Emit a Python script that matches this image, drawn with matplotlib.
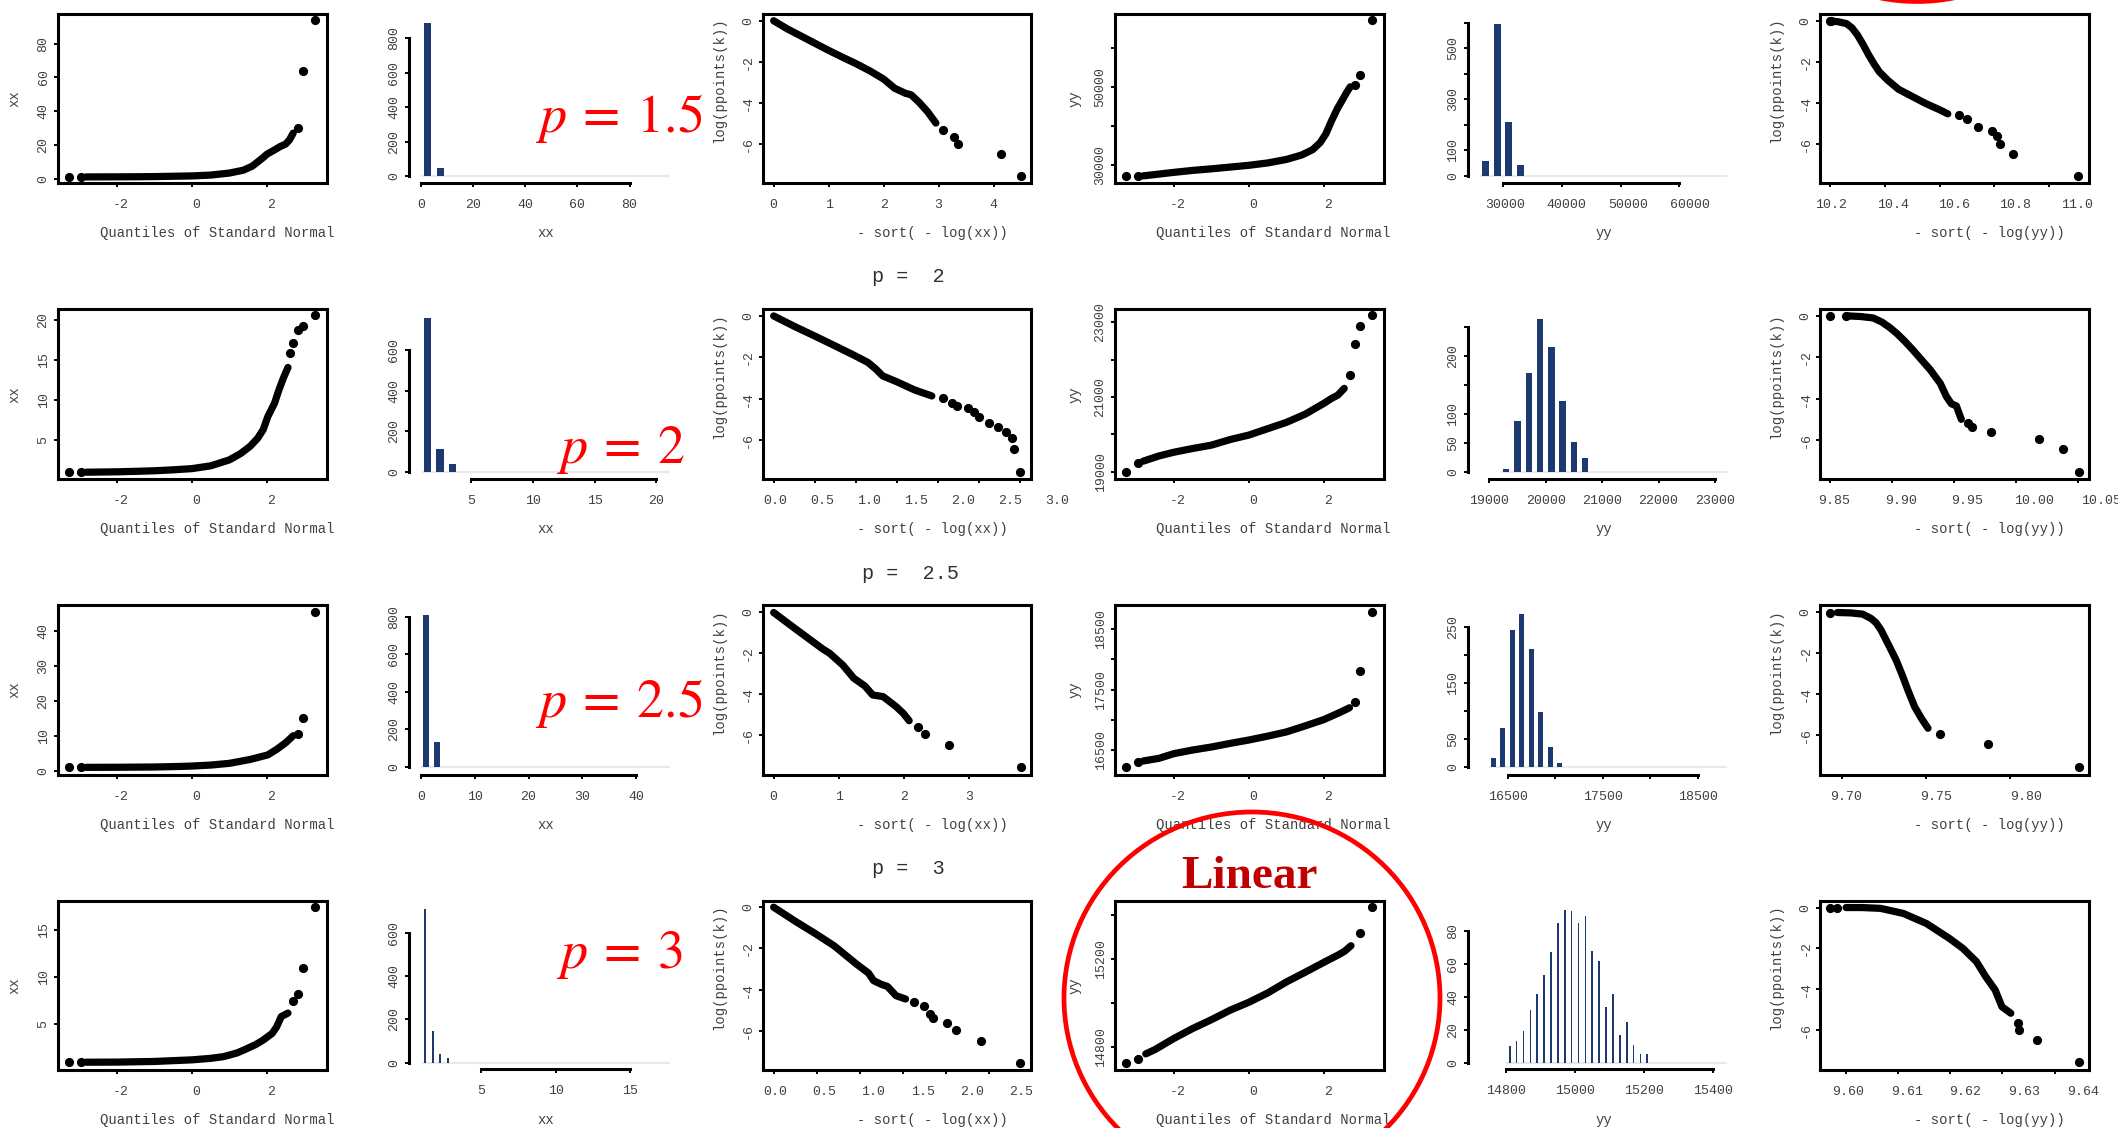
import matplotlib
matplotlib.use("Agg")
import matplotlib.pyplot as plt
from matplotlib.patches import Ellipse
from matplotlib.transforms import ScaledTranslation

# ---------------- data ----------------
p_values = ["1.5", "2", "2.5", "3"]

# column 1: normal QQ plot of xx (dense run + isolated points)
qqxx_z = [
    [-2.82, -2.5, -2.0, -1.5, -1.0, -0.5, 0.0, 0.5, 1.0, 1.37, 1.6, 1.73, 1.9, 2.0, 2.2, 2.35, 2.5, 2.6, 2.7],
    [-2.82, -2.5, -2.0, -1.5, -1.0, -0.5, 0.0, 0.5, 1.0, 1.3, 1.55, 1.75, 1.9, 2.02, 2.2, 2.32, 2.44, 2.56],
    [-2.82, -2.0, -1.0, -0.35, 0.0, 0.5, 1.0, 1.55, 2.02, 2.26, 2.5, 2.6, 2.7],
    [-2.82, -2.0, -1.0, 0.0, 0.5, 0.84, 1.2, 1.43, 1.7, 1.9, 2.14, 2.26, 2.38, 2.56],
]
qqxx_v = [
    [1.0, 1.02, 1.05, 1.1, 1.2, 1.4, 1.6, 2.1, 3.3, 5.0, 7.3, 9.5, 12.5, 14.5, 17.0, 19.0, 20.5, 23.0, 27.0],
    [0.95, 0.97, 1.0, 1.06, 1.13, 1.25, 1.4, 1.75, 2.5, 3.3, 4.2, 5.2, 6.3, 7.9, 9.6, 11.3, 12.8, 14.1],
    [0.95, 0.97, 1.05, 1.2, 1.32, 1.6, 2.1, 3.2, 4.5, 6.1, 8.0, 9.0, 10.0],
    [0.97, 0.98, 1.05, 1.22, 1.38, 1.56, 1.95, 2.35, 2.85, 3.33, 4.04, 4.75, 5.82, 6.2],
]
qqxx_tail_z = [
    [-3.29, -2.97, 2.82, 2.97, 3.29],
    [-3.29, -2.97, 2.62, 2.70, 2.82, 2.97, 3.29],
    [-3.29, -2.97, 2.82, 2.97, 3.29],
    [-3.29, -2.97, 2.70, 2.82, 2.97, 3.29],
]
qqxx_tail_v = [
    [1.0, 1.0, 30.0, 64.0, 94.0],
    [0.94, 0.95, 15.9, 17.2, 18.8, 19.3, 20.7],
    [0.95, 0.96, 10.5, 15.0, 45.3],
    [0.96, 0.96, 7.5, 8.2, 11.0, 17.5],
]

# column 3: log(ppoints(k)) against -sort(-log(xx))
lpxx_x = [
    [0.0, 0.25, 0.5, 0.75, 1.0, 1.25, 1.5, 1.75, 2.0, 2.2, 2.4, 2.5, 2.65, 2.8, 2.95],
    [0.0, 0.25, 0.5, 0.75, 1.0, 1.15, 1.25, 1.33, 1.5, 1.72, 1.93],
    [0.0, 0.25, 0.5, 0.75, 0.86, 1.06, 1.23, 1.4, 1.52, 1.68, 1.88, 1.99, 2.08],
    [0.0, 0.25, 0.49, 0.7, 0.96, 1.1, 1.16, 1.25, 1.32, 1.42, 1.53],
]
lpxx_y = [
    [0.0, -0.4, -0.75, -1.1, -1.45, -1.78, -2.1, -2.45, -2.85, -3.3, -3.55, -3.62, -4.0, -4.45, -5.0],
    [0.0, -0.5, -0.97, -1.45, -1.94, -2.25, -2.58, -2.9, -3.18, -3.58, -3.87],
    [0.0, -0.6, -1.19, -1.78, -2.0, -2.57, -3.22, -3.6, -4.04, -4.12, -4.61, -4.94, -5.3],
    [0.0, -0.68, -1.3, -1.87, -2.76, -3.2, -3.57, -3.75, -3.85, -4.3, -4.46],
]
lpxx_tail_x = [
    [3.08, 3.28, 3.36, 4.14, 4.5],
    [2.07, 2.18, 2.24, 2.37, 2.45, 2.5, 2.63, 2.74, 2.83, 2.91, 2.93, 3.01],
    [2.21, 2.32, 2.69, 3.79],
    [1.63, 1.74, 1.81, 1.85, 2.01, 2.11, 2.4, 2.86],
]
lpxx_tail_y = [
    [-5.35, -5.7, -6.0, -6.5, -7.6],
    [-3.98, -4.23, -4.35, -4.47, -4.63, -4.87, -5.19, -5.35, -5.63, -5.92, -6.44, -7.56],
    [-5.62, -5.95, -6.49, -7.58],
    [-4.62, -4.79, -5.2, -5.4, -5.64, -5.97, -6.49, -7.59],
]

# column 4: normal QQ plot of yy
qqyy_z = [
    [-2.82, -2.5, -2.0, -1.5, -1.0, -0.5, 0.0, 0.5, 1.0, 1.4, 1.7, 1.9, 2.05, 2.2, 2.35, 2.5, 2.6, 2.7],
    [-2.82, -2.4, -2.0, -1.5, -1.0, -0.5, 0.0, 0.5, 1.0, 1.5, 2.0, 2.2, 2.37, 2.54],
    [-2.82, -2.4, -2.0, -1.5, -1.0, -0.5, 0.0, 0.5, 1.0, 1.5, 2.0, 2.37, 2.6, 2.68],
    [-2.75, -2.5, -2.0, -1.5, -1.0, -0.5, 0.0, 0.5, 1.0, 1.5, 2.0, 2.4, 2.55, 2.72],
]
qqyy_v = [
    [27300, 27650, 28200, 28700, 29100, 29550, 30000, 30600, 31500, 32600, 34000, 35800, 38000, 41300, 44300, 46800, 48500, 50000],
    [19280, 19420, 19520, 19620, 19710, 19860, 19980, 20150, 20320, 20540, 20830, 20960, 21050, 21230],
    [16318, 16362, 16440, 16500, 16550, 16610, 16666, 16730, 16800, 16900, 17005, 17108, 17175, 17200],
    [14770, 14790, 14840, 14885, 14925, 14968, 15004, 15046, 15096, 15140, 15185, 15220, 15235, 15260],
]
qqyy_tail_z = [
    [-3.29, -2.97, 2.82, 2.97, 3.29],
    [-3.29, -2.97, 2.70, 2.82, 2.97, 3.29],
    [-3.29, -2.97, 2.82, 2.97, 3.29],
    [-3.29, -2.97, 2.97, 3.29],
]
qqyy_tail_v = [
    [27190, 27250, 50500, 52980, 67000],
    [19000, 19240, 21590, 22420, 22900, 23200],
    [16213, 16296, 17300, 17815, 18782],
    [14728, 14747, 15316, 15434],
]

# column 6: log(ppoints(k)) against -sort(-log(yy))
lpyy_x = [
    [10.21, 10.23, 10.26, 10.28, 10.30, 10.32, 10.34, 10.36, 10.38, 10.41, 10.45, 10.50, 10.55, 10.60, 10.63],
    [9.865, 9.875, 9.885, 9.892, 9.898, 9.904, 9.910, 9.917, 9.924, 9.931, 9.939, 9.944, 9.948, 9.952, 9.956],
    [9.697, 9.705, 9.712, 9.717, 9.720, 9.723, 9.728, 9.732, 9.736, 9.739, 9.743, 9.747, 9.751],
    [9.600, 9.603, 9.6066, 9.611, 9.6154, 9.6198, 9.6224, 9.625, 9.6268, 9.6286, 9.6299, 9.6316],
]
lpyy_y = [
    [-0.02, -0.05, -0.14, -0.35, -0.7, -1.15, -1.65, -2.1, -2.5, -2.9, -3.35, -3.7, -4.05, -4.35, -4.55],
    [0.0, -0.03, -0.1, -0.3, -0.55, -0.85, -1.2, -1.65, -2.13, -2.61, -3.26, -3.9, -4.25, -4.35, -5.0],
    [0.0, -0.02, -0.08, -0.29, -0.5, -0.86, -1.67, -2.33, -3.14, -3.8, -4.61, -5.18, -5.67],
    [0.0, 0.0, -0.04, -0.29, -0.78, -1.51, -2.0, -2.65, -3.39, -4.04, -4.86, -5.18],
]
lpyy_tail_x = [
    [10.20, 10.205, 10.67, 10.70, 10.74, 10.79, 10.81, 10.82, 10.87, 11.107],
    [9.850, 9.863, 9.961, 9.965, 9.980, 10.019, 10.038, 10.051],
    [9.6926, 9.758, 9.787, 9.841],
    [9.5969, 9.5982, 9.633, 9.6332, 9.6367, 9.6446],
]
lpyy_tail_y = [
    [0.0, 0.0, -4.62, -4.8, -5.2, -5.4, -5.65, -6.0, -6.5, -7.6],
    [-0.02, -0.02, -5.19, -5.35, -5.63, -5.95, -6.45, -7.56],
    [-0.01, -5.95, -6.46, -7.58],
    [0.0, 0.0, -5.64, -6.0, -6.49, -7.58],
]

# columns 2 and 5: histograms of xx and yy
hxx_centers = [[2.5, 7.5], [1.5, 2.5, 3.5], [1.0, 3.0], [1.25, 1.75, 2.25, 2.75]]
hxx_counts = [[889, 48], [755, 114, 41], [809, 133], [708, 148, 40, 20]]
hxx_binw = [5, 1, 2, 0.5]
hyy_centers = [
    [27000, 29000, 31000, 33000],
    [19300, 19500, 19700, 19900, 20100, 20300, 20500, 20700],
    [16350, 16450, 16550, 16650, 16750, 16850, 16950, 17050],
    [14810, 14830, 14850, 14870, 14890, 14910, 14930, 14950, 14970, 14990, 15010,
     15030, 15050, 15070, 15090, 15110, 15130, 15150, 15170, 15190, 15210],
]
hyy_counts = [
    [60, 595, 210, 42],
    [5, 89, 171, 264, 216, 123, 52, 24],
    [15, 70, 244, 272, 211, 98, 35, 6],
    [10, 13, 19, 32, 42, 53, 67, 85, 93, 92, 85, 89, 68, 62, 34, 42, 17, 25, 11, 5, 5],
]
hyy_binw = [2000, 200, 100, 20]

# tick values / labels
c1_yticks = [[0, 20, 40, 60, 80], [5, 10, 15, 20], [0, 10, 20, 30, 40], [5, 10, 15]]
c3_xticks = [[0, 1, 2, 3, 4], [0, 0.5, 1, 1.5, 2, 2.5, 3], [0, 1, 2, 3], [0, 0.5, 1, 1.5, 2, 2.5]]
c3_xlabels = [["0", "1", "2", "3", "4"], ["0.0", "0.5", "1.0", "1.5", "2.0", "2.5", "3.0"],
              ["0", "1", "2", "3"], ["0.0", "0.5", "1.0", "1.5", "2.0", "2.5"]]
c4_yticks = [[30000, 40000, 50000, 60000], [19000, 20000, 21000, 22000, 23000],
             [16500, 17000, 17500, 18000, 18500], [14800, 15000, 15200, 15400]]
c4_ylabels = [["30000", "", "50000", ""], ["19000", "", "21000", "", "23000"],
              ["16500", "", "17500", "", "18500"], ["14800", "", "15200", ""]]
c6_xticks = [[10.2, 10.4, 10.6, 10.8, 11.0], [9.85, 9.90, 9.95, 10.00, 10.05],
             [9.70, 9.75, 9.80], [9.60, 9.61, 9.62, 9.63, 9.64]]
c6_xlabels = [["10.2", "10.4", "10.6", "10.8", "11.0"], ["9.85", "9.90", "9.95", "10.00", "10.05"],
              ["9.70", "9.75", "9.80"], ["9.60", "9.61", "9.62", "9.63", "9.64"]]
h2_xticks = [[0, 20, 40, 60, 80], [5, 10, 15, 20], [0, 10, 20, 30, 40], [5, 10, 15]]
h2_yticks = [[0, 200, 400, 600, 800], [0, 200, 400, 600], [0, 200, 400, 600, 800], [0, 200, 400, 600]]
h5_xticks = [[30000, 40000, 50000, 60000], [19000, 20000, 21000, 22000, 23000],
             [16500, 17000, 17500, 18000, 18500], [14800, 15000, 15200, 15400]]
h5_xlabels = [["30000", "40000", "50000", "60000"], ["19000", "20000", "21000", "22000", "23000"],
              ["16500", "", "17500", "", "18500"], ["14800", "15000", "15200", "15400"]]
h5_yticks = [[0, 100, 200, 300, 400, 500, 600], [0, 50, 100, 150, 200, 250],
             [0, 50, 100, 150, 200, 250], [0, 20, 40, 60, 80]]
h5_ylabels = [["0", "100", "", "300", "", "500", ""], ["0", "50", "100", "", "200", ""],
              ["0", "50", "", "150", "", "250"], ["0", "20", "40", "60", "80"]]

# ---------------- layout (pixels of the 2118x1128 canvas) ----------------
W, H, DPI = 2118, 1128, 100
ROW_T = [14, 309.3, 605, 900.7]
ROW_B = [183, 479.3, 775, 1070]
HIST_BASE = [176, 472.3, 766.7, 1062.7]
HIST_OFF = [7, 7, 8.3, 6.3]
C1, C3, C4, C6 = (58, 327), (762.5, 1031), (1115, 1384), (1820, 2089)
H2, H5 = (408.5, 670), (1467.8, 1727.4)

c1_ylim = [(-2.6, 97.6), (0.06, 21.4), (-1.24, 47.4), (0.14, 18.16)]
c3_xlim = [(-0.203, 4.68), (-0.136, 3.14), (-0.171, 3.95), (-0.129, 2.985)]
c3_ylim = [(-7.93, 0.33), (-7.9, 0.32), (-7.96, 0.367), (-7.91, 0.316)]
c4_ylim = [(25489, 68553), (18795, 23348), (16086, 18903), (14697, 15464)]
c6_xlim = [(10.163, 11.146), (9.842, 10.059), (9.6866, 9.847), (9.595, 9.6466)]
c6_ylim = [(-7.93, 0.33), (-7.9, 0.32), (-7.96, 0.367), (-7.96, 0.335)]
qq_xlim = (-3.57, 3.6)
h2_xlim = [(-4.8, 95.5), (-0.06, 21.1), (-2.32, 46.3), (0.12, 17.66)]
h2_ylim = [941, 799, 862, 748]
h5_xlim = [(24010, 68183), (18619, 23220), (16081, 18814), (14688, 15443)]
h5_ylim = [634, 281, 288.8, 98.4]
h2_frac = [0.6, 0.6, 0.58, 0.25]
h5_frac = [0.58, 0.57, 0.53, 0.25]

# horizontal spread of the x tick labels in the reference (stretch, shift px)
c1_warp = [(1.0, 4)] * 4
c3_warp = [(1.0, 0), (1.145, 0), (1.0, 0), (1.14, 0)]
c4_warp = [(1.0, 4)] * 4
c6_warp = [(1.12, 0), (1.074, 3.8), (1.071, 2), (1.125, -1)]
h5_warp = [(1.05, 0), (1.0, 0), (1.0, 0), (1.0, 0)]

TXT = "#404040"
BAR_C = "#1c3a70"
BOX_LW = 2.2
CURVE_LW = 5.2
DOT_MS = 5.6

plt.rcParams["font.family"] = ["Liberation Mono", "DejaVu Sans Mono"]
plt.rcParams["mathtext.fontset"] = "stix"

fig = plt.figure(figsize=(W / DPI, H / DPI), dpi=DPI)
fig.patch.set_facecolor("white")


def px_ax(x0, x1, y0, y1):
    return fig.add_axes([x0 / W, 1 - y1 / H, (x1 - x0) / W, (y1 - y0) / H])


def ftext(x, y, s, **kw):
    return fig.text(x / W, 1 - y / H, s, **kw)


def style_ticks(ax):
    ax.tick_params(axis="both", direction="out", length=2.6, width=1.4, color="black",
                   labelsize=9.5, labelcolor=TXT)
    ax.tick_params(axis="x", pad=9)
    ax.tick_params(axis="y", pad=3.5)


def warp_xlabels(ax, x0px, x1px, xlim, xt, warp):
    slope, off = warp
    if slope == 1.0 and off == 0:
        return
    for lab, v in zip(ax.get_xticklabels(), xt):
        tpx = x0px + (v - xlim[0]) / (xlim[1] - xlim[0]) * (x1px - x0px)
        dx = (slope - 1.0) * (tpx - x0px) + off
        lab.set_transform(lab.get_transform() + ScaledTranslation(dx / DPI, 0, fig.dpi_scale_trans))


def box_panel(cols, r, xlim, ylim, xt, xtl, yt, ytl, cx, cy, tx, ty, warp):
    ax = px_ax(cols[0], cols[1], ROW_T[r], ROW_B[r])
    ax.plot(cx, cy, "-", color="black", lw=CURVE_LW, solid_capstyle="round",
            solid_joinstyle="round", zorder=3)
    ax.plot(tx, ty, "o", color="black", ms=DOT_MS, zorder=3)
    ax.set_xlim(*xlim)
    ax.set_ylim(*ylim)
    ax.set_xticks(xt)
    ax.set_xticklabels(xtl)
    ax.set_yticks(yt)
    ax.set_yticklabels(ytl, rotation=90, va="center")
    for s in ax.spines.values():
        s.set_linewidth(BOX_LW)
        s.set_color("black")
    style_ticks(ax)
    warp_xlabels(ax, cols[0], cols[1], xlim, xt, warp)
    return ax


def hist_panel(cols, r, xlim, ytop, centers, counts, binw, frac, xt, xtl, yt, ytl, warp):
    ax = px_ax(cols[0], cols[1], ROW_T[r], HIST_BASE[r])
    ax.hlines(0, centers[0] - binw / 2, xlim[1], color="#e9e9e9", lw=1.6, zorder=1, clip_on=False)
    ax.bar(centers, counts, width=binw * frac, color=BAR_C, linewidth=0, zorder=2)
    ax.set_xlim(*xlim)
    ax.set_ylim(0, ytop)
    ax.set_xticks(xt)
    ax.set_xticklabels(xtl)
    ax.set_yticks(yt)
    ax.set_yticklabels(ytl, rotation=90, va="center")
    for k in ("top", "right"):
        ax.spines[k].set_visible(False)
    for k in ("left", "bottom"):
        ax.spines[k].set_linewidth(BOX_LW)
        ax.spines[k].set_color("black")
    ax.spines["bottom"].set_position(("outward", HIST_OFF[r] * 72 / DPI))
    ax.spines["bottom"].set_bounds(xt[0], xt[-1])
    ax.spines["left"].set_bounds(yt[0], yt[-1])
    ax.patch.set_alpha(0)
    style_ticks(ax)
    warp_xlabels(ax, cols[0], cols[1], xlim, xt, warp)
    return ax


for r in range(4):
    box_panel(C1, r, qq_xlim, c1_ylim[r], [-2, 0, 2], ["-2", "0", "2"],
              c1_yticks[r], [str(v) for v in c1_yticks[r]],
              qqxx_z[r], qqxx_v[r], qqxx_tail_z[r], qqxx_tail_v[r], c1_warp[r])
    hist_panel(H2, r, h2_xlim[r], h2_ylim[r], hxx_centers[r], hxx_counts[r], hxx_binw[r],
               h2_frac[r], h2_xticks[r], [str(v) for v in h2_xticks[r]],
               h2_yticks[r], [str(v) for v in h2_yticks[r]], (1.0, 0))
    box_panel(C3, r, c3_xlim[r], c3_ylim[r], c3_xticks[r], c3_xlabels[r],
              [-6, -4, -2, 0], ["-6", "-4", "-2", "0"],
              lpxx_x[r], lpxx_y[r], lpxx_tail_x[r], lpxx_tail_y[r], c3_warp[r])
    box_panel(C4, r, qq_xlim, c4_ylim[r], [-2, 0, 2], ["-2", "0", "2"],
              c4_yticks[r], c4_ylabels[r],
              qqyy_z[r], qqyy_v[r], qqyy_tail_z[r], qqyy_tail_v[r], c4_warp[r])
    hist_panel(H5, r, h5_xlim[r], h5_ylim[r], hyy_centers[r], hyy_counts[r], hyy_binw[r],
               h5_frac[r], h5_xticks[r], h5_xlabels[r], h5_yticks[r], h5_ylabels[r], h5_warp[r])
    box_panel(C6, r, c6_xlim[r], c6_ylim[r], c6_xticks[r], c6_xlabels[r],
              [-6, -4, -2, 0], ["-6", "-4", "-2", "0"],
              lpyy_x[r], lpyy_y[r], lpyy_tail_x[r], lpyy_tail_y[r], c6_warp[r])

    # axis titles
    yl = ROW_B[r] + 50
    mid = (ROW_T[r] + ROW_B[r]) / 2
    lab = dict(fontsize=10, color=TXT, ha="center", va="center")
    ftext(217, yl, "Quantiles of Standard Normal", **lab)
    ftext(545.5, yl, "xx", **lab)
    ftext(932, yl, "- sort( - log(xx))", **lab)
    ftext(1273.6, yl, "Quantiles of Standard Normal", **lab)
    ftext(1603.8, yl, "yy", **lab)
    ftext(1989, yl, "- sort( - log(yy))", **lab)
    ftext(14, mid, "xx", rotation=90, **lab)
    ftext(718.75, mid - 18, "log(ppoints(k))", rotation=90, **lab)
    ftext(1075, mid, "yy", rotation=90, **lab)
    ftext(1776, mid - 18, "log(ppoints(k))", rotation=90, **lab)

# R titles above the third column
title_pos = [None, (908, 276.7), (911, 573.3), (908, 868.3)]
for r in range(1, 4):
    ftext(title_pos[r][0], title_pos[r][1], "p =  " + p_values[r], fontsize=14.5,
          color="#303030", ha="center", va="center")

# red annotations
red_pos = [(535, 132), (556, 463), (535, 717), (556, 968)]
for r in range(4):
    ftext(red_pos[r][0], red_pos[r][1], r"$p\:=\:" + p_values[r] + r"$", fontsize=39,
          color="#ff0000", ha="left", va="baseline")

ftext(1250, 888, "Linear", family=["Liberation Serif", "DejaVu Serif"], weight="bold",
      fontsize=34, color="#c00000", ha="center", va="baseline")

fig.add_artist(Ellipse((1252 / W, 1 - 998 / H), 2 * 188 / W, 2 * 186 / H,
                       transform=fig.transFigure, fill=False, ec="#ff0000", lw=3.4,
                       zorder=10, clip_on=False))
fig.add_artist(Ellipse((1917 / W, 1 + 184.5 / H), 2 * 188 / W, 2 * 186 / H,
                       transform=fig.transFigure, fill=False, ec="#ff0000", lw=3.4,
                       zorder=10, clip_on=False))

fig.savefig("out.png", dpi=DPI, facecolor="white")
